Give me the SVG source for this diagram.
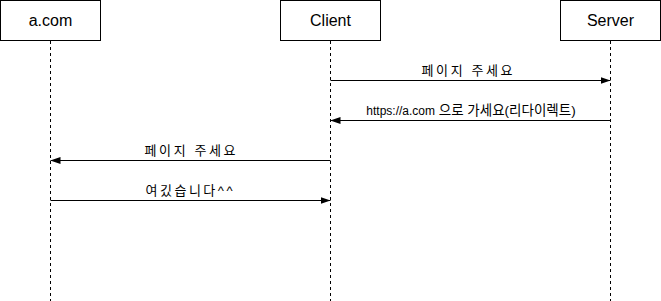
<svg xmlns="http://www.w3.org/2000/svg" width="661" height="301" viewBox="0 0 661 301">
<style>
.box{fill:#fff;stroke:#000;stroke-width:1}
.life{stroke:#000;stroke-width:1;stroke-dasharray:3 3;fill:none}
.msg{stroke:#000;stroke-width:1;fill:none}
.t{font-family:"Liberation Sans","Noto Sans CJK KR",sans-serif;fill:#000;text-anchor:middle}
.n{font-size:16px}
.l{font-size:13px}
</style>
<defs>
<marker id="ah" viewBox="0 0 10 10" refX="10" refY="5" markerWidth="10" markerHeight="10" markerUnits="userSpaceOnUse" orient="auto">
<path d="M0,1.5 L10,5 L0,8.5 Z" fill="#000"/>
</marker>
</defs>
<g id="lifelines">
<path class="life" d="M50.5,41 V301 M330.5,41 V301 M610.5,41 V301"/>
</g>
<g id="node-acom">
<rect class="box" x="0.5" y="0.5" width="100" height="40"/>
<text class="t n" x="50.5" y="26">a.com</text>
</g>
<g id="node-client">
<rect class="box" x="280.5" y="0.5" width="100" height="40"/>
<text class="t n" x="330.5" y="26">Client</text>
</g>
<g id="node-server">
<rect class="box" x="560.5" y="0.5" width="100" height="40"/>
<text class="t n" x="610.5" y="26">Server</text>
</g>
<g id="connectors">
<path class="msg" d="M330.5,80.5 H610.5" marker-end="url(#ah)"/>
<path class="msg" d="M610.5,120.5 H330.5" marker-end="url(#ah)"/>
<path class="msg" d="M330.5,160.5 H50.5" marker-end="url(#ah)"/>
<path class="msg" d="M50.5,200.5 H330.5" marker-end="url(#ah)"/>
<text class="t l" x="467" y="75" textLength="91" lengthAdjust="spacing">페이지 주세요</text>
<text class="t" x="471" y="115" style="font-size:13.5px"><tspan style="font-size:12px">https://a.com</tspan> 으로 가세요(리다이렉트)</text>
<text class="t l" x="190" y="155" textLength="91" lengthAdjust="spacing">페이지 주세요</text>
<text class="t l" x="189" y="195" textLength="87" lengthAdjust="spacing">여깄습니다^^</text>
</g>
</svg>
